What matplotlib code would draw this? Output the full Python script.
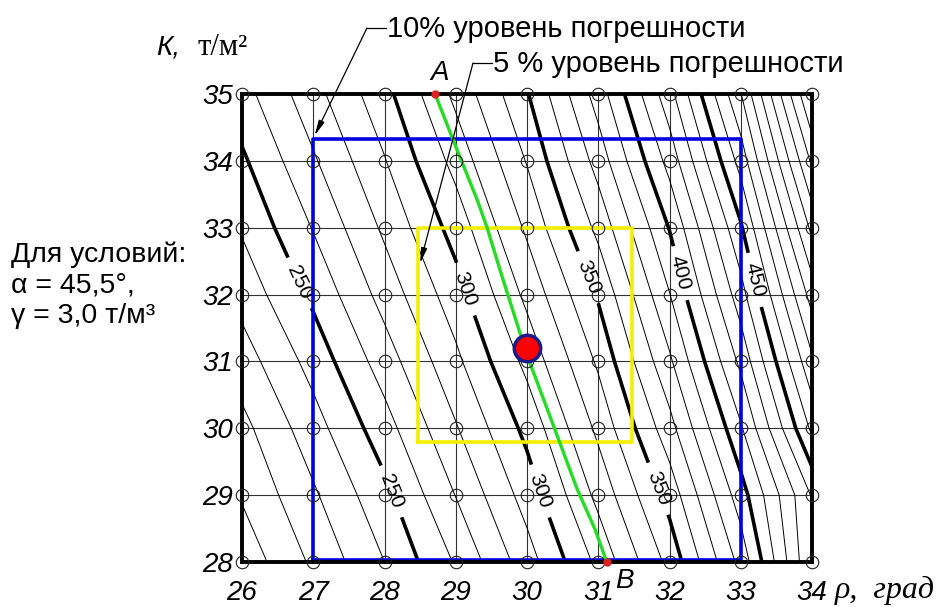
import numpy as np
import matplotlib.pyplot as plt

# узлы сетки: ρ (град) и К (т/м2)
rho = [26, 27, 28, 29, 30, 31, 32, 33, 34]
K = [28, 29, 30, 31, 32, 33, 34, 35]

# значения в узлах (строки - К от 28 до 35, столбцы - ρ от 26 до 34)
Z = [
    [203.6, 221.8, 240.0, 261.0, 285.5, 312.5, 343.0, 383.2, 440.0],
    [211.0, 228.5, 247.1, 270.3, 294.3, 322.8, 353.8, 395.4, 441.0],
    [217.0, 235.8, 255.8, 279.1, 302.9, 332.4, 366.3, 408.7, 462.2],
    [225.2, 243.7, 264.9, 287.6, 312.9, 341.7, 378.2, 422.5, 478.1],
    [233.6, 252.2, 273.9, 295.7, 322.6, 351.2, 389.6, 435.8, 494.4],
    [241.1, 260.6, 281.9, 304.1, 331.8, 362.8, 400.5, 448.6, 512.7],
    [248.3, 268.7, 289.4, 313.4, 340.7, 374.1, 413.7, 464.0, 532.0],
    [256.1, 276.4, 296.7, 322.5, 349.2, 384.6, 426.4, 479.5, 552.0],
]

bold_levels = [250, 300, 350, 400, 450]
thin_levels = [v for v in range(200, 560, 10) if v not in bold_levels]

# зоны погрешности
blue_rho = [27.0, 33.0]
blue_K = [28.03, 34.33]
yellow_rho = [28.47, 31.47]
yellow_K = [29.8, 33.0]

# линия A-B
green_rho = [28.71, 29.02, 29.3, 29.44, 29.65, 29.9, 30.04, 30.22, 30.42, 30.7, 30.95, 31.12]
green_K = [35.0, 34.16, 33.42, 33.0, 32.27, 31.43, 30.98, 30.47, 29.9, 29.1, 28.5, 28.0]
point_A = (28.71, 35.0)
point_B = (31.12, 28.0)
center = (30.0, 31.2)

W, H = 942, 607


def fpx(x, y):
    return x / W, 1 - y / H


fig = plt.figure(figsize=(W / 100, H / 100), dpi=100)
ax = fig.add_axes([242 / W, 1 - 562 / H, 570 / W, 468 / H])

sans = "Liberation Sans"
serif = "Liberation Serif"

ax.set_xlim(26, 34)
ax.set_ylim(28, 35)
ax.set_xticks(rho)
ax.set_yticks(K)
ax.grid(True, color="#333333", lw=0.8, zorder=1)
ax.set_axisbelow(True)
ax.tick_params(length=0)
ax.tick_params(axis="x", pad=13)
ax.tick_params(axis="y", pad=6.5)
for lab in ax.get_xticklabels() + ax.get_yticklabels():
    lab.set_fontfamily(sans)
    lab.set_fontstyle("italic")
    lab.set_fontsize(20)
for sp in ax.spines.values():
    sp.set_linewidth(2.8)
    sp.set_zorder(6)

ax.contour(rho, K, Z, levels=thin_levels, colors="black", linewidths=0.7, zorder=2)
cs = ax.contour(rho, K, Z, levels=bold_levels, colors="black", linewidths=2.6, zorder=3)
label_pos = [(26.84, 32.19), (28.2, 29.1), (29.16, 32.09), (30.3, 29.1),
             (30.86, 32.26), (31.85, 29.1), (32.15, 32.32), (33.2, 32.22)]
ax.clabel(cs, fmt="%d", fontsize=15, inline=True, inline_spacing=8, manual=label_pos)
for t in cs.labelTexts:
    t.set_fontfamily(sans)

# кружки в узлах
RR, KK = np.meshgrid(rho, K)
ax.plot(RR.ravel(), KK.ravel(), ls="none", marker="o", ms=9, mfc="none",
        mec="#222222", mew=0.8, clip_on=False, zorder=7)

ax.plot([blue_rho[0], blue_rho[1], blue_rho[1], blue_rho[0], blue_rho[0]],
        [blue_K[0], blue_K[0], blue_K[1], blue_K[1], blue_K[0]],
        color="#0000e0", lw=2.6, zorder=5)
ax.plot([yellow_rho[0], yellow_rho[1], yellow_rho[1], yellow_rho[0], yellow_rho[0]],
        [yellow_K[0], yellow_K[0], yellow_K[1], yellow_K[1], yellow_K[0]],
        color="#f4ef00", lw=2.6, zorder=5)
ax.plot(green_rho, green_K, color="#22dd22", lw=2.4, zorder=6)
ax.plot(*center, marker="o", ms=19, mfc="red", mec="#1a1a8c", mew=2.5, zorder=8)
ax.plot([point_A[0], point_B[0]], [point_A[1], point_B[1]], ls="none", marker="o",
        ms=5, color="#dd2222", clip_on=False, zorder=8)

# выноски
arrow = dict(arrowstyle="-|>,head_length=0.9,head_width=0.18", color="black",
             lw=0.9, shrinkA=0, shrinkB=0)
ax.annotate("", xy=(27.02, 34.38), xycoords="data", xytext=fpx(367, 28),
            textcoords="figure fraction", arrowprops=arrow, zorder=9)
ax.annotate("", xy=(28.5, 32.47), xycoords="data", xytext=fpx(473, 63),
            textcoords="figure fraction", arrowprops=arrow, zorder=9)
for x0, x1, y in [(367, 386, 28), (473, 492, 63)]:
    fig.add_artist(plt.Line2D([x0 / W, x1 / W], [1 - y / H, 1 - y / H],
                              color="black", lw=0.9))
fig.text(*fpx(387, 29), "10% уровень погрешности", family=sans, fontsize=21,
         ha="left", va="center")
fig.text(*fpx(493, 64), "5 % уровень погрешности", family=sans, fontsize=21,
         ha="left", va="center")

fig.text(*fpx(440, 73), "A", family=sans, style="italic", fontsize=20,
         ha="center", va="center")
fig.text(*fpx(624, 581), "B", family=sans, style="italic", fontsize=20,
         ha="center", va="center")

# подписи осей
fig.text(*fpx(156, 55), "К,", family=sans, style="italic", fontsize=20,
         ha="left", va="baseline")
fig.text(*fpx(198, 55), "т/м²", family=serif, fontsize=22,
         ha="left", va="baseline")
fig.text(*fpx(835, 598), "ρ,  град", family=serif, style="italic", fontsize=23,
         ha="left", va="baseline")

for i, line in enumerate(["Для условий:", "α = 45,5°,", "γ = 3,0 т/м³"]):
    fig.text(*fpx(11, 262 + 30.5 * i), line, family=sans, fontsize=20.5,
             ha="left", va="baseline")

fig.savefig("out.png", dpi=100)
